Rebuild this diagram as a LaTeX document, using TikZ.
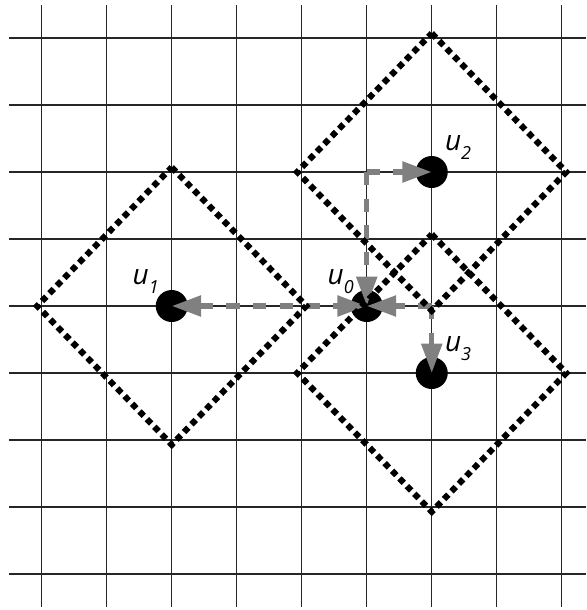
\documentclass[tikz,border=0pt]{standalone}
\usepackage{fontspec}
\setmainfont{Open Sans}
\usetikzlibrary{arrows.meta}

\newcommand{\ulab}[1]{\textit{u\raisebox{-6.75pt}{\fontsize{13.5}{13.5}\selectfont #1}}}

\begin{document}
\begin{tikzpicture}[x=48.75pt,y=-50.25pt,
  gridline/.style={line width=1pt,black!85},
  dot/.style={circle,fill=black,minimum size=24pt,inner sep=0pt},
  lbl/.style={inner sep=0pt,font=\fontsize{21}{21}\selectfont},
  zone/.style={line width=4.6pt,dash pattern=on 4.6pt off 3.4pt},
  move/.style={line width=4pt,gray,dash pattern=on 10pt off 10pt,>={Triangle[length=22pt,width=15pt]}}]
\useasboundingbox (-0.642,-0.567) rectangle (8.375,8.537);

% grid
\foreach \i in {0,...,8} {
  \draw[gridline] (-0.503,\i) -- (8.375,\i);
  \draw[gridline] (\i,-0.49) -- (\i,8.49);
}

\node[dot] (u0) at (5,4) {};
\node[dot] (u1) at (2,4) {};
\node[dot] (u2) at (6,2) {};
\node[dot] (u3) at (6,5) {};

\node[lbl] (l0) at ([shift={(-0.4,-0.37)}]u0.center) {\ulab{0}};
\node[lbl] (l1) at ([shift={(-0.4,-0.37)}]u1.center) {\ulab{1}};
\node[lbl] (l2) at ([shift={(0.405,-0.37)}]u2.center) {\ulab{2}};
\node[lbl] (l3) at ([shift={(0.405,-0.37)}]u3.center) {\ulab{3}};

\coordinate (p) at (5,2);
\coordinate (q) at (6,4);

\draw[move,->] (p) -- (u2.center);
\draw[move,->] (p) -- (u0.center);
\draw[move,->] (q) -- (u0.center);
\draw[move,->] (q) -- (u3.center);
\draw[move,<->] (u1.center) -- (u0.center);

% regions
\draw[zone] (u1.center) +(0,-2.07) -- +(2.07,0) -- +(0,2.07) -- +(-2.07,0) -- cycle;
\draw[zone] (u2.center) +(0,-2.07) -- +(2.07,0) -- +(0,2.07) -- +(-2.07,0) -- cycle;
\draw[zone] (u3.center) +(0,-2.07) -- +(2.07,0) -- +(0,2.07) -- +(-2.07,0) -- cycle;
\end{tikzpicture}
\end{document}
